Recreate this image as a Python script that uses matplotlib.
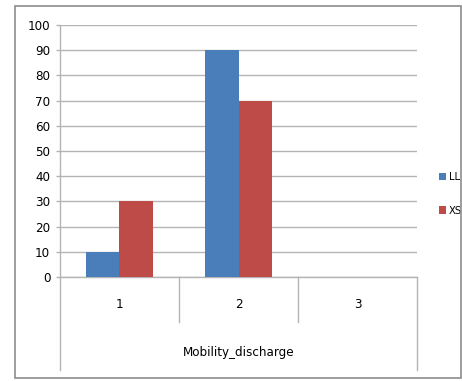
import matplotlib
matplotlib.use("Agg")
import matplotlib.pyplot as plt
from matplotlib.patches import Rectangle
from matplotlib.lines import Line2D
from matplotlib import font_manager

# chart values
categories = ['1', '2', '3']
ll_values = [10, 90, 0]
xs_values = [30, 70, 0]
series_names = ['LL', 'XS']
axis_title = 'Mobility_discharge'
y_ticks = list(range(0, 101, 10))

names = {f.name for f in font_manager.fontManager.ttflist}
if 'Liberation Sans Narrow' in names:
    plt.rcParams['font.family'] = ['Liberation Sans Narrow', 'DejaVu Sans']
else:
    plt.rcParams['font.family'] = ['DejaVu Sans']
    plt.rcParams['font.stretch'] = 'condensed'

W, H = 462, 381
fig = plt.figure(figsize=(W / 100, H / 100), dpi=100)

# outer chart frame
fig.patches.append(Rectangle((15 / W, 1 - 378 / H), 446 / W, 372 / H,
                             transform=fig.transFigure, fill=False,
                             edgecolor='#8c8c8c', linewidth=1.2))

ax = fig.add_axes([60 / W, 1 - 277 / H, 357 / W, 252 / H])

blue = '#4a7ebb'
red = '#be4b48'
grid_c = '#b4b4b4'
bw = 0.285
xs = [i + 0.5 for i in range(len(categories))]

ax.bar([x - bw / 2 for x in xs], ll_values, width=bw, color=blue, label=series_names[0], zorder=3)
ax.bar([x + bw / 2 for x in xs], xs_values, width=bw, color=red, label=series_names[1], zorder=3)

ax.set_xlim(0, 3)
ax.set_ylim(0, 100)
ax.set_yticks(y_ticks)
ax.yaxis.grid(True, color=grid_c, linewidth=1, zorder=0)
ax.tick_params(axis='y', length=3, width=1, color=grid_c, labelsize=9.5, pad=4)
ax.set_xticks([])

for s in ['top', 'right']:
    ax.spines[s].set_visible(False)
for s in ['left', 'bottom']:
    ax.spines[s].set_color(grid_c)
    ax.spines[s].set_linewidth(1)

# category separators and labels below the axis
for i in range(len(categories) + 1):
    depth = -0.37 if i in (0, len(categories)) else -0.18
    ax.add_line(Line2D([i, i], [0, depth], transform=ax.get_xaxis_transform(),
                       color=grid_c, linewidth=1, clip_on=False))
for x, c in zip(xs, categories):
    ax.text(x, -0.111, c, transform=ax.get_xaxis_transform(),
            ha='center', va='center', fontsize=9.5)
ax.text(1.5, -0.30, axis_title, transform=ax.get_xaxis_transform(),
        ha='center', va='center', fontsize=9.5)

ax.legend(loc='center left', bbox_to_anchor=(433 / W, 1 - 194 / H),
          bbox_transform=fig.transFigure, frameon=False, fontsize=8,
          handlelength=0.7, handleheight=0.7, handletextpad=0.25,
          labelspacing=2.1, borderpad=0)

fig.savefig('out.png', dpi=100)
